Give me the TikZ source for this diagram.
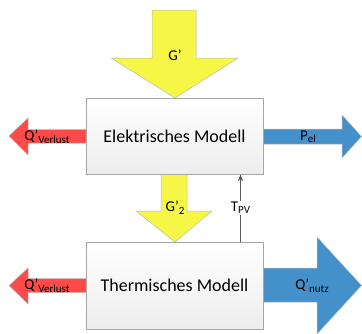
\documentclass[tikz,border=0pt]{standalone}
\usepackage{fontspec}
\setmainfont{Carlito}
\usetikzlibrary{arrows.meta}
\definecolor{ayellow}{HTML}{F6F647}
\definecolor{ared}{HTML}{FF4A4A}
\definecolor{ablue}{HTML}{4490CB}
\definecolor{aedge}{HTML}{A6A6A6}
\begin{document}
\begin{tikzpicture}[x=1pt,y=-1pt,
  blockarrow/.style={draw=gray!55,line width=0.5pt,line join=miter},
  modelbox/.style={draw=aedge,line width=0.7pt,top color=white,bottom color=gray!14,
    minimum width=177pt,inner sep=0pt,font=\fontsize{18}{20}\selectfont},
  lbl/.style={font=\fontsize{15}{17}\selectfont,inner sep=1pt}]
\useasboundingbox (0,0) rectangle (362,333);
% block arrows
\draw[blockarrow,fill=ayellow] (152,10) -- (196,10) -- (196,58) -- (238,58) -- (175,98) -- (111,58) -- (152,58) -- cycle;
\draw[blockarrow,fill=ared] (86,129.5) -- (28,129.5) -- (28,118) -- (9,136) -- (28,155) -- (28,143) -- (86,143) -- cycle;
\draw[blockarrow,fill=ablue] (263,129) -- (342,129) -- (342,115) -- (361.5,136.5) -- (342,158) -- (342,144) -- (263,144) -- cycle;
\draw[blockarrow,fill=ayellow] (161,174) -- (187,174) -- (187,211) -- (212,211) -- (175,242) -- (136,211) -- (161,211) -- cycle;
\draw[blockarrow,fill=ared] (86,278.5) -- (28,278.5) -- (28,268) -- (9,285.5) -- (28,304) -- (28,292.5) -- (86,292.5) -- cycle;
\draw[blockarrow,fill=ablue] (263,268) -- (317,268) -- (317,237) -- (361.5,285.5) -- (317,334) -- (317,302) -- (263,302) -- cycle;
% boxes
\node[modelbox,minimum height=76pt] (elek) at (174.5,136) {Elektrisches Modell};
\node[modelbox,minimum height=87pt] (therm) at (174.5,285.5) {Thermisches Modell};
% T_PV connector
\coordinate (tpvlow) at (240.5,0);
\draw[gray!70!black,line width=0.6pt,-{Stealth[length=7pt,width=5pt]}] (therm.north -| tpvlow) -- (elek.south -| tpvlow)
  node[pos=0.5,fill=white,inner sep=1pt,text=black,font=\fontsize{15}{17}\selectfont] (tpv) {T\raisebox{-2pt}{\fontsize{11}{12}\selectfont PV}};
% labels
\node[lbl] (lg) at (175,55) {G’};
\node[lbl] (lg2) at (175,208) {G’\raisebox{-3pt}{\fontsize{11}{12}\selectfont 2}};
\node[lbl] (lq1) at (47,137) {Q’\raisebox{-3pt}{\fontsize{11}{12}\selectfont Verlust}};
\node[lbl] (lq2) at (47,286) {Q’\raisebox{-3pt}{\fontsize{11}{12}\selectfont Verlust}};
\node[lbl] (lp) at (308,137) {P\raisebox{-2pt}{\fontsize{11}{12}\selectfont el}};
\node[lbl] (lqn) at (312,286) {Q’\raisebox{-3pt}{\fontsize{11}{12}\selectfont nutz}};
\end{tikzpicture}
\end{document}
